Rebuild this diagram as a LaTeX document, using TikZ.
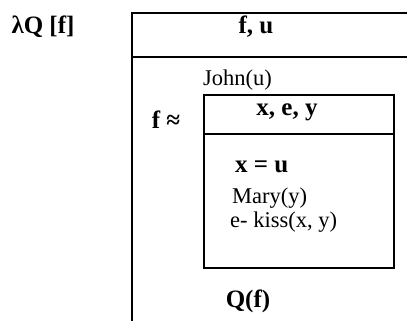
\documentclass[tikz,border=0pt]{standalone}
\usepackage{fontspec}
\setmainfont{Liberation Serif}
\begin{document}
\begin{tikzpicture}[x=1pt,y=-1pt,
    outerbox/.style={line width=2.6pt},
    innerbox/.style={line width=2.2pt},
    lbl/.style={inner sep=0pt,anchor=base,font=\fontsize{25}{25}\selectfont\bfseries},
    cond/.style={inner sep=0pt,anchor=base west,font=\fontsize{22.5}{22.5}\selectfont}]
    \useasboundingbox (0,0) rectangle (407,321);
    \coordinate (Otop) at (132,13);
    \coordinate (Omid) at (132,57);
    \coordinate (Obot) at (132,322);
    \coordinate (Itop) at (204,95);
    \coordinate (Imid) at (204,134);
    \coordinate (Ibot) at (394,268);
    \draw[outerbox] (Obot)--(Otop)--(409,13) (Omid)--(409,57);
    \draw[innerbox] (Itop) rectangle (Ibot) (Imid)--(394,134);
    \node[lbl] (lam) at (43,34) {λQ [f]};
    \node[lbl] (univ) at (256,34) {f, u};
    \node[cond] (john) at (203,85) {John(u)};
    \node[lbl] (feq) at (166,128) {f ≈};
    \node[lbl] (iuniv) at (287,115) {x, e, y};
    \node[lbl,anchor=base west] (xu) at (235,172) {x = u};
    \node[cond] (mary) at (232,203) {Mary(y)};
    \node[cond] (kiss) at (230,227) {e- kiss(x, y)};
    \node[lbl] (qf) at (248,307) {Q(f)};
\end{tikzpicture}
\end{document}
